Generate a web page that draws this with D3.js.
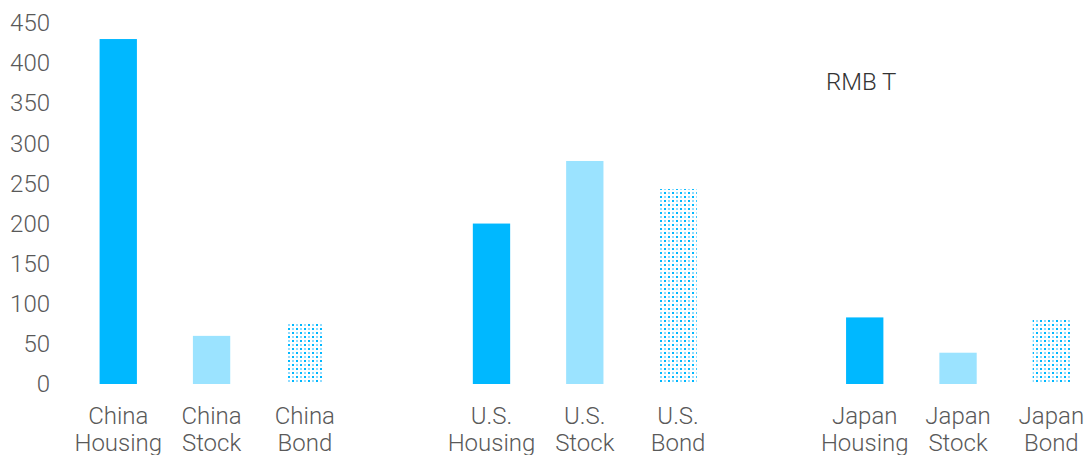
<!DOCTYPE html>
<html>
<head>
<meta charset="utf-8">
<script src="https://cdn.jsdelivr.net/npm/d3@7"></script>
<style>
html,body{margin:0;padding:0;background:#fff;}
svg{display:block;font-family:Roboto,"Noto Sans",sans-serif;font-weight:300;}
</style>
</head>
<body>
<svg id="chart" width="1086" height="455"></svg>
<script>
const categories = ["China Housing","China Stock","China Bond","",
  "U.S. Housing","U.S. Stock","U.S. Bond","",
  "Japan Housing","Japan Stock","Japan Bond"];
const values = [430, 60, 76, null, 200, 278, 243, null, 83, 39, 80];
const kinds = ["housing","stock","bond",null,"housing","stock","bond",null,"housing","stock","bond"];
const yTicks = [0,50,100,150,200,250,300,350,400,450];
const unitLabel = "RMB T";

const svg = d3.select("#chart");
const defs = svg.append("defs");
const pat = defs.append("pattern").attr("id","dots").attr("patternUnits","userSpaceOnUse")
  .attr("width",8).attr("height",8);
pat.append("rect").attr("width",8).attr("height",8).attr("fill","#fff");
pat.append("rect").attr("x",0).attr("y",0).attr("width",2).attr("height",2).attr("fill","#00B8FF");
pat.append("rect").attr("x",4).attr("y",4).attr("width",2).attr("height",2).attr("fill","#00B8FF");
pat.append("rect").attr("x",4).attr("y",0).attr("width",2).attr("height",2).attr("fill","#8fdcff");
pat.append("rect").attr("x",0).attr("y",4).attr("width",2).attr("height",2).attr("fill","#8fdcff");

const fills = {housing:"#00B8FF", stock:"#9BE3FF", bond:"url(#dots)"};

const x = d3.scaleBand().domain(d3.range(categories.length)).range([71.6, 1098]).paddingInner(0.6).paddingOuter(0.3);
const y = d3.scaleLinear().domain([0,450]).range([384, 23]);

// y axis
const yAxis = d3.axisLeft(y).tickValues(yTicks).tickSize(0).tickPadding(0);
const gy = svg.append("g").attr("transform","translate(50,0)").call(yAxis);
gy.select(".domain").remove();
gy.selectAll("text").attr("font-size",24).attr("fill","#595959")
  .attr("font-family","Roboto,sans-serif").attr("font-weight",300);

// bars
svg.append("g").selectAll("rect").data(values.map((v,i)=>({v,i})).filter(d=>d.v!=null))
  .join("rect")
  .attr("x",d=>x(d.i)).attr("width",x.bandwidth())
  .attr("y",d=>y(d.v)).attr("height",d=>y(0)-y(d.v))
  .attr("fill",d=>fills[kinds[d.i]]);

// x labels
const gx = svg.append("g");
categories.forEach((c,i)=>{
  if(!c) return;
  const parts = c.split(" ");
  const t = gx.append("text").attr("text-anchor","middle")
    .attr("font-size",24).attr("fill","#595959");
  parts.forEach((p,j)=>{
    t.append("tspan").attr("x", x(i)+x.bandwidth()/2).attr("y", 424 + j*27).text(p);
  });
});

svg.append("text").attr("x",826).attr("y",90).attr("font-size",24).attr("fill","#333")
  .text(unitLabel);
</script>
</body>
</html>
